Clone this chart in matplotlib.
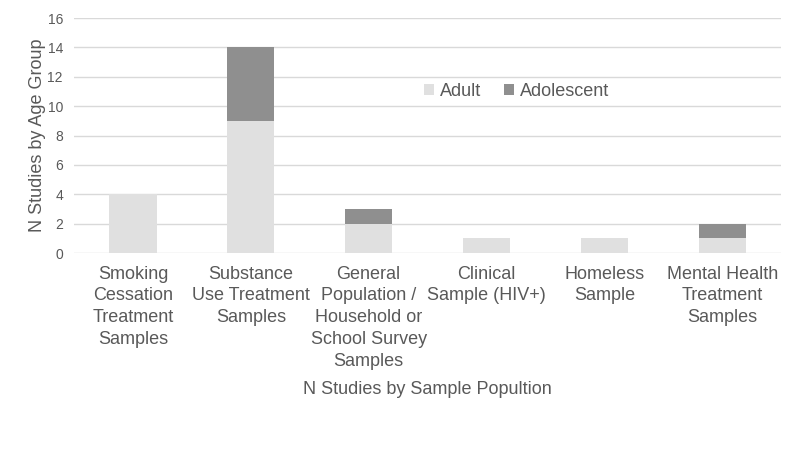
import matplotlib
matplotlib.use("Agg")
import matplotlib.pyplot as plt
import numpy as np

categories = ["Smoking\nCessation\nTreatment\nSamples",
              "Substance\nUse Treatment\nSamples",
              "General\nPopulation /\nHousehold or\nSchool Survey\nSamples",
              "Clinical\nSample (HIV+)",
              "Homeless\nSample",
              "Mental Health\nTreatment\nSamples"]
adult = [4, 9, 2, 1, 1, 1]
adolescent = [0, 5, 1, 0, 0, 1]
yticks = [0, 2, 4, 6, 8, 10, 12, 14, 16]

plt.rcParams['font.family'] = ['Liberation Sans', 'DejaVu Sans']
txt = '#595959'

fig = plt.figure(figsize=(8, 4.51), dpi=100)
ax = fig.add_axes([0.0925, 0.439, 0.884, 0.521])
x = np.arange(len(categories))
ax.bar(x, adult, width=0.4, color='#e0e0e0', label='Adult', zorder=3)
ax.bar(x, adolescent, width=0.4, bottom=adult, color='#8f8f8f', label='Adolescent', zorder=3)

ax.set_xlim(-0.5, len(categories) - 0.5)
ax.set_ylim(0, 16)
ax.set_yticks(yticks)
ax.set_yticklabels([str(v) for v in yticks], fontsize=10, color=txt)
ax.set_xticks(x)
ax.set_xticklabels(categories, fontsize=13, color=txt, linespacing=1.37, va='top')
ax.tick_params(axis='both', length=0)
ax.tick_params(axis='x', pad=9)
ax.tick_params(axis='y', pad=8)
ax.grid(axis='y', color='#d9d9d9', linewidth=1, zorder=0)
for s in ax.spines.values():
    s.set_visible(False)
ax.set_ylabel('N Studies by Age Group', fontsize=13, color=txt, labelpad=1)
ax.set_xlabel('N Studies by Sample Popultion', fontsize=13, color=txt, labelpad=8)

leg = ax.legend(loc='center', bbox_to_anchor=(0.626, 0.688), ncol=2, frameon=False,
                fontsize=13, handlelength=0.55, handleheight=0.55, handletextpad=0.3,
                columnspacing=1.3)
for t in leg.get_texts():
    t.set_color(txt)

fig.savefig('out.png', dpi=100)
